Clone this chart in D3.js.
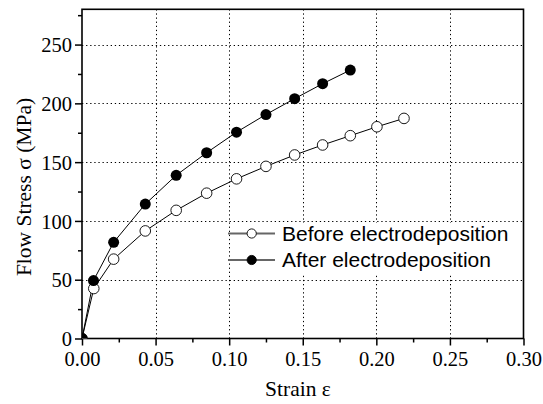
<!DOCTYPE html>
<html lang="en">
<head>
  <meta charset="utf-8">
  <title>Flow stress vs strain</title>
  <script src="https://cdn.jsdelivr.net/npm/d3@7/dist/d3.min.js"></script>
  <style>
    body { margin: 0; background: #fff; }
    svg { display: block; }
  </style>
</head>
<body>
<svg id="chart" width="543" height="404"></svg>
<script>
// strain values and flow stress (MPa)
const strainBefore = [0, 0.008, 0.0215, 0.043, 0.064, 0.0847, 0.105, 0.125, 0.1445, 0.1635, 0.1823, 0.2004, 0.2188];
const stressBefore = [0, 42.5, 67.5, 91.5, 109, 123.6, 135.8, 146.4, 156.1, 164.6, 172.5, 180.1, 187.2];
const strainAfter  = [0, 0.0078, 0.0215, 0.043, 0.064, 0.0847, 0.105, 0.125, 0.1445, 0.1635, 0.1823];
const stressAfter  = [0, 49.3, 81.8, 114.3, 138.8, 158, 175.5, 190.5, 204, 216.7, 228.3];
const seriesNames  = ["Before electrodeposition", "After electrodeposition"];
const xTicks = [0, 0.05, 0.10, 0.15, 0.20, 0.25, 0.30];
const yTicks = [0, 50, 100, 150, 200, 250];

const SERIF = "'Liberation Serif', 'Times New Roman', serif";
const SANS = "'Liberation Sans', Arial, sans-serif";

const svg = d3.select("#chart");
const mLeft = 82, mRight = 523.5, mTop = 9.3, mBottom = 338.5;

const x = d3.scaleLinear().domain([0, 0.30]).range([mLeft, mRight]);
const y = d3.scaleLinear().domain([0, 280]).range([mBottom, mTop]);

svg.append("defs").append("clipPath").attr("id", "plot-clip")
  .append("rect")
  .attr("x", mLeft).attr("y", mTop)
  .attr("width", mRight - mLeft).attr("height", mBottom - mTop);

// dotted grid
const grid = svg.append("g");
grid.selectAll("line.vx").data(xTicks.slice(1, -1)).enter().append("line")
  .attr("x1", d => Math.round(x(d)) + 0.5).attr("x2", d => Math.round(x(d)) + 0.5)
  .attr("y1", mTop).attr("y2", mBottom)
  .attr("stroke", "#000").attr("stroke-width", 1).attr("stroke-dasharray", "1.3,2.8");
grid.selectAll("line.hy").data(yTicks.slice(1)).enter().append("line")
  .attr("x1", mLeft).attr("x2", mRight)
  .attr("y1", d => Math.round(y(d)) + 0.5).attr("y2", d => Math.round(y(d)) + 0.5)
  .attr("stroke", "#000").attr("stroke-width", 1).attr("stroke-dasharray", "1.3,2.8");

// axes
const xAxis = svg.append("g").attr("transform", `translate(0,${mBottom})`)
  .call(d3.axisBottom(x).tickValues(xTicks).tickSize(7).tickFormat(d3.format(".2f")));
const xMinor = svg.append("g").attr("transform", `translate(0,${mBottom})`)
  .call(d3.axisBottom(x).tickValues(d3.range(0.025, 0.3, 0.05)).tickSize(4).tickFormat(""));
const yAxis = svg.append("g").attr("transform", `translate(${mLeft},0)`)
  .call(d3.axisLeft(y).tickValues(yTicks).tickSize(7));
const yMinor = svg.append("g").attr("transform", `translate(${mLeft},0)`)
  .call(d3.axisLeft(y).tickValues(d3.range(25, 280, 50)).tickSize(4).tickFormat(""));

[xAxis, xMinor, yAxis, yMinor].forEach(g => {
  g.attr("font-family", SERIF).attr("font-size", 20.5);
  g.select(".domain").remove();
  g.selectAll(".tick line").attr("stroke", "#000").attr("stroke-width", 1.5);
  g.selectAll("text").attr("fill", "#000")
    .style("font-family", SERIF).style("font-size", "20.5px");
});
xAxis.selectAll("text").attr("dy", null).attr("y", 27);
yAxis.selectAll("text").attr("x", -10).attr("dy", "0.35em");

// frame
svg.append("rect")
  .attr("x", mLeft).attr("y", mTop)
  .attr("width", mRight - mLeft).attr("height", mBottom - mTop)
  .attr("fill", "none").attr("stroke", "#000").attr("stroke-width", 1.6);

// series
const plot = svg.append("g").attr("clip-path", "url(#plot-clip)");
const line = d3.line().x(d => x(d[0])).y(d => y(d[1]));
const before = d3.zip(strainBefore, stressBefore);
const after  = d3.zip(strainAfter, stressAfter);

plot.append("path").datum(before).attr("d", line)
  .attr("fill", "none").attr("stroke", "#000").attr("stroke-width", 1);
plot.append("path").datum(after).attr("d", line)
  .attr("fill", "none").attr("stroke", "#000").attr("stroke-width", 1);

plot.selectAll("circle.before").data(before).enter().append("circle")
  .attr("cx", d => x(d[0])).attr("cy", d => y(d[1])).attr("r", 5.3)
  .attr("fill", "#fff").attr("stroke", "#000").attr("stroke-width", 0.9);
plot.selectAll("circle.after").data(after).enter().append("circle")
  .attr("cx", d => x(d[0])).attr("cy", d => y(d[1])).attr("r", 5.5)
  .attr("fill", "#000");

// legend
svg.append("rect").attr("x", 279).attr("y", 223).attr("width", 240).attr("height", 52).attr("fill", "#fff");
const legend = svg.append("g");
seriesNames.forEach((name, i) => {
  const ly = 233.5 + i * 26.5;
  legend.append("line").attr("x1", 228).attr("x2", 275).attr("y1", ly).attr("y2", ly)
    .attr("stroke", "#666").attr("stroke-width", 1.8);
  legend.append("circle").attr("cx", 251.7).attr("cy", ly).attr("r", 4.6)
    .attr("fill", i === 0 ? "#fff" : "#000").attr("stroke", "#000").attr("stroke-width", 0.9);
  legend.append("text")
    .style("font-family", SANS).style("font-size", "21px")
    .attr("x", 282).attr("y", ly + 7).text(name);
});

// axis titles
svg.append("text")
  .style("font-family", SERIF).style("font-size", "21.5px")
  .attr("x", 298).attr("y", 396).attr("text-anchor", "middle")
  .text("Strain ε");
svg.append("text")
  .style("font-family", SERIF).style("font-size", "21.5px")
  .attr("transform", `translate(31,187) rotate(-90)`).attr("text-anchor", "middle")
  .text("Flow Stress σ (MPa)");
</script>
</body>
</html>
